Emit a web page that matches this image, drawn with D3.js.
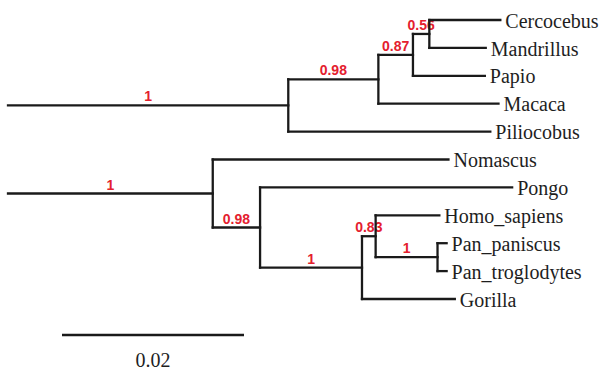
<!DOCTYPE html>
<html>
<head>
<meta charset="utf-8">
<script src="https://cdn.jsdelivr.net/npm/d3@7"></script>
<style>
  html, body { margin: 0; padding: 0; background: #fff; }
  svg { display: block; }
</style>
</head>
<body>
<svg id="chart" width="603" height="373"></svg>
<script>
// ---- Data ----
const nodeIds      = ["root","A","B","C","D","Cercocebus","Mandrillus","Papio","Macaca","Piliocobus",
                      "E","Nomascus","F","Pongo","G","H","Homo_sapiens","I","Pan_paniscus","Pan_troglodytes","Gorilla"];
const parentIds    = [null,"root","A","B","C","D","D","C","B","A",
                      "root","E","E","F","F","G","H","H","I","I","G"];
const branchLengths= [0,0.0308,0.0099,0.0038,0.0018,0.0078,0.0062,0.0079,0.0132,0.0222,
                      0.0225,0.0259,0.0052,0.0277,0.0112,0.0015,0.0070,0.0068,0.0010,0.0010,0.0102];
const supports     = ["","1","0.98","0.87","0.56","","","","","",
                      "1","","0.98","","1","0.83","","1","","",""];
const scaleBarValue = 0.02;
const scaleBarLabel = "0.02";

// ---- Layout ----
const svg = d3.select("#chart");
const table = nodeIds.map((id, i) => ({ id, parent: parentIds[i], len: branchLengths[i], support: supports[i] }));
const root = d3.stratify().id(d => d.id).parentId(d => d.parent)(table);

root.each(n => { n.depthLen = n.parent ? n.parent.depthLen + n.data.len : 0; });

const leaves = root.leaves();
const x = d3.scaleLinear().domain([0, 0.02]).range([8, 190]);
const y = d3.scaleLinear().domain([0, leaves.length - 1]).range([20, 299]);

leaves.forEach((l, i) => { l.py = y(i); });
root.eachAfter(n => {
  if (n.children) {
    const ys = n.children.map(c => c.py);
    n.py = (d3.min(ys) + d3.max(ys)) / 2;
  }
  n.px = x(n.depthLen);
});

const ink = "#1a1a1a";
const red = "#e4202e";

// support labels (drawn beneath the branches)
const edges = root.descendants().filter(n => n.parent);
svg.append("g")
  .selectAll("text")
  .data(edges.filter(n => n.data.support))
  .join("text")
  .attr("x", n => (n.parent.px + n.px) / 2)
  .attr("y", n => n.py - 4)
  .attr("text-anchor", "middle")
  .attr("font-family", "Liberation Sans, Arial, sans-serif")
  .attr("font-size", 14)
  .attr("font-weight", 600)
  .attr("fill", red)
  .text(n => n.data.support);

// horizontal branches
const g = svg.append("g").attr("stroke", ink).attr("stroke-width", 2.3).attr("stroke-linecap", "square");
g.selectAll("line.h")
  .data(edges)
  .join("line")
  .attr("class", "h")
  .attr("x1", n => n.parent.px)
  .attr("x2", n => n.px)
  .attr("y1", n => n.py)
  .attr("y2", n => n.py);

// vertical connectors (the root has none)
g.selectAll("line.v")
  .data(root.descendants().filter(n => n.children && n.parent))
  .join("line")
  .attr("class", "v")
  .attr("x1", n => n.px)
  .attr("x2", n => n.px)
  .attr("y1", n => d3.min(n.children, c => c.py))
  .attr("y2", n => d3.max(n.children, c => c.py));

// tip labels
svg.append("g")
  .selectAll("text")
  .data(leaves)
  .join("text")
  .attr("x", n => n.px + 5)
  .attr("y", n => n.py)
  .attr("dy", "0.38em")
  .attr("font-family", "Liberation Serif, Times New Roman, serif")
  .attr("font-size", 20)
  .attr("fill", "#1e1e1e")
  .text(n => n.id);

// scale bar
svg.append("line")
  .attr("x1", x(0) + 54).attr("x2", x(scaleBarValue) + 54)
  .attr("y1", 335).attr("y2", 335)
  .attr("stroke", ink).attr("stroke-width", 2.3);
svg.append("text")
  .attr("x", (x(0) + x(scaleBarValue)) / 2 + 54)
  .attr("y", 367)
  .attr("text-anchor", "middle")
  .attr("font-family", "Liberation Serif, Times New Roman, serif")
  .attr("font-size", 20)
  .attr("fill", "#1e1e1e")
  .text(scaleBarLabel);
</script>
</body>
</html>
